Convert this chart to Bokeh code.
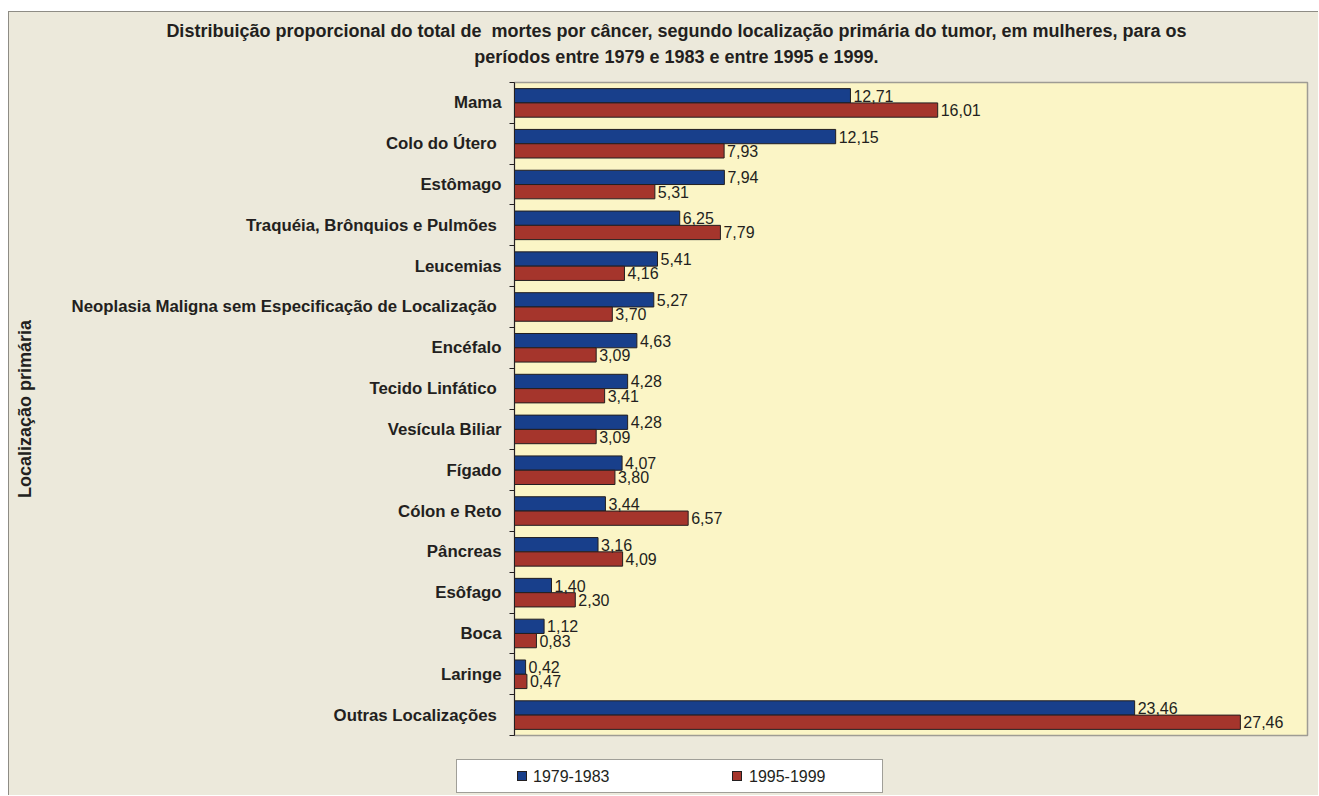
from bokeh.plotting import figure
from bokeh.layouts import column
from bokeh.models import ColumnDataSource, Range1d, LinearAxis, FixedTicker, Div
from bokeh.transform import dodge
from bokeh.embed import file_html
from bokeh.resources import INLINE
from bokeh.core.properties import value

title_lines = [
    "Distribuição proporcional do total de  mortes por câncer, segundo localização primária do tumor, em mulheres, para os",
    "períodos entre 1979 e 1983 e entre 1995 e 1999.",
]
y_axis_title = "Localização primária"
categories = [
    "Mama", "Colo do Útero ", "Estômago", "Traquéia, Brônquios e Pulmões ", "Leucemias",
    "Neoplasia Maligna sem Especificação de Localização ", "Encéfalo", "Tecido Linfático ",
    "Vesícula Biliar", "Fígado", "Cólon e Reto", "Pâncreas", "Esôfago", "Boca", "Laringe",
    "Outras Localizações ",
]
series_names = ["1979-1983", "1995-1999"]
values_1979_1983 = [12.71, 12.15, 7.94, 6.25, 5.41, 5.27, 4.63, 4.28, 4.28, 4.07, 3.44, 3.16, 1.40, 1.12, 0.42, 23.46]
values_1995_1999 = [16.01, 7.93, 5.31, 7.79, 4.16, 3.70, 3.09, 3.41, 3.09, 3.80, 6.57, 4.09, 2.30, 0.83, 0.47, 27.46]

FONT = "Liberation Sans"
TXT = "#231F20"
BLUE = "#183F8B"
RED = "#A5352C"
PANEL = "#ECE9DB"
N = len(categories)
W = 1309


def fmt(v):
    return f"{v:.2f}".replace(".", ",")


# ---------- title (HTML text) ----------
title_html = (
    f"<div style=\"margin-left:26px;width:1283px;padding-top:6px;text-align:center;"
    f"font-family:'{FONT}';font-weight:bold;font-size:18px;line-height:26px;color:{TXT};"
    f"white-space:pre;\">{title_lines[0]}<br>{title_lines[1]}</div>"
)
title_div = Div(text=title_html, width=W, height=66, styles={"margin": "0", "padding": "0"})

# ---------- main chart ----------
slot = [2 * (N - 1 - i) + 1 for i in range(N)]

src = ColumnDataSource(dict(
    pos=slot,
    v1=values_1979_1983, v2=values_1995_1999,
    l1=[fmt(v) for v in values_1979_1983], l2=[fmt(v) for v in values_1995_1999],
))

p = figure(width=W, height=670, y_range=Range1d(0, 2 * N), x_range=Range1d(0, 30),
           output_backend="svg", toolbar_location=None,
           x_axis_location=None, y_axis_location=None,
           min_border_left=505, min_border_right=11, min_border_top=4, min_border_bottom=13)
p.background_fill_color = "#FBF5C6"
p.border_fill_color = PANEL
p.outline_line_color = "#9E9C94"
p.outline_line_width = 1.5
p.xgrid.grid_line_color = None
p.ygrid.grid_line_color = None

OFF = 0.35
p.hbar(y=dodge("pos", OFF), left=0, right="v1", height=0.7,
       fill_color=BLUE, line_color=TXT, line_width=1, source=src, legend_label=series_names[0])
p.hbar(y=dodge("pos", -OFF), left=0, right="v2", height=0.7,
       fill_color=RED, line_color=TXT, line_width=1, source=src, legend_label=series_names[1])
p.legend.visible = False

for col, lab, off in (("v1", "l1", OFF), ("v2", "l2", -OFF)):
    p.text(x=col, y=dodge("pos", off), text=lab, x_offset=3,
           text_baseline="middle", text_align="left", text_font=value(FONT),
           text_font_size="16px", text_color=TXT, source=src)

tick_axis = LinearAxis(ticker=FixedTicker(ticks=list(range(0, 2 * N + 1, 2))),
                       major_tick_in=0, major_tick_out=5, minor_tick_line_color=None,
                       major_label_text_font_size="0px", major_label_standoff=0,
                       major_label_overrides={i: "" for i in range(0, 2 * N + 1, 2)},
                       axis_line_color=TXT, major_tick_line_color=TXT)
p.add_layout(tick_axis, "left")

cat_axis = LinearAxis(ticker=FixedTicker(ticks=slot), minor_tick_line_color=None,
                      major_label_overrides={s: c for s, c in zip(slot, categories)},
                      major_tick_in=0, major_tick_out=0, axis_line_color=None,
                      major_label_standoff=8, major_label_text_font=FONT,
                      major_label_text_font_style="bold", major_label_text_font_size="16.8px",
                      major_label_text_color=TXT,
                      axis_label=y_axis_title, axis_label_text_font=FONT,
                      axis_label_text_font_style="bold", axis_label_text_font_size="18px",
                      axis_label_text_color=TXT, axis_label_standoff=34)
p.add_layout(cat_axis, "left")

# ---------- legend strip (HTML) ----------
def swatch(left, color):
    return (f"<span style=\"position:absolute;left:{left}px;top:11px;width:10px;height:10px;"
            f"background:{color};border:1px solid {TXT};\"></span>")


def item_text(left, text):
    return (f"<span style=\"position:absolute;left:{left}px;top:7px;line-height:20px;"
            f"font-family:'{FONT}';font-size:16px;color:{TXT};\">{text}</span>")


legend_html = (
    "<div style=\"position:relative;margin-left:447px;margin-top:11px;width:427px;height:34px;"
    "background:white;border:1px solid #A09F98;\">"
    + swatch(60, BLUE) + item_text(76, series_names[0])
    + swatch(275, RED) + item_text(292, series_names[1])
    + "</div>"
)
legend_div = Div(text=legend_html, width=W, height=47, styles={"margin": "0", "padding": "0"})

layout = column(title_div, p, legend_div, spacing=0,
                styles={"margin-left": "8px", "margin-top": "11px",
                        "border-left": "1px solid #8E8C85", "border-top": "1px solid #8E8C85",
                        "background-color": PANEL})

open("out.html", "w", encoding="utf-8").write(file_html(layout, INLINE))
